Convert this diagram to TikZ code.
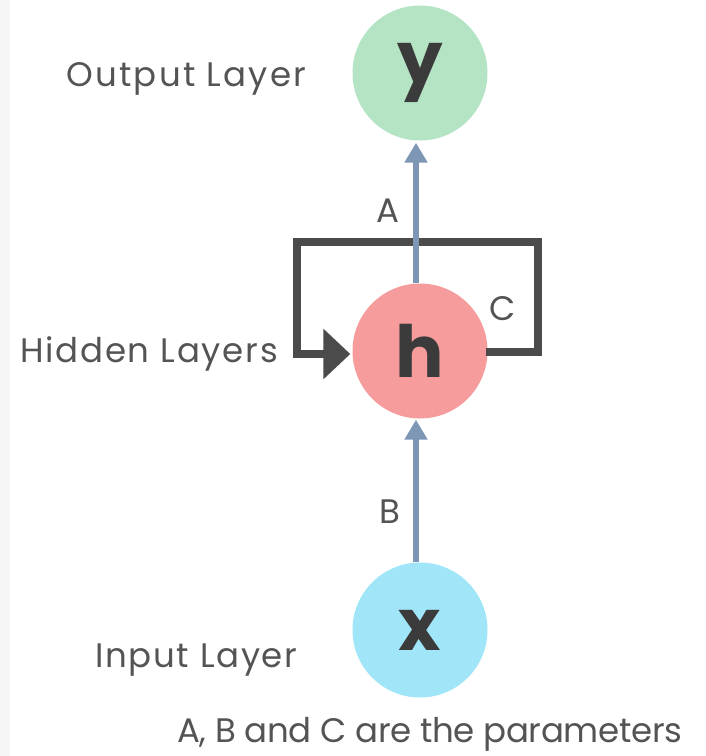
\documentclass[tikz,border=0pt]{standalone}
\usepackage{fontspec}
\setmainfont{Poppins}
\usetikzlibrary{arrows.meta}
\definecolor{ygreen}{HTML}{B5E4C5}
\definecolor{hred}{HTML}{F79C9C}
\definecolor{xcyan}{HTML}{A0E6F8}
\definecolor{arrblue}{HTML}{7F97B6}
\definecolor{loopgray}{HTML}{4B4B4B}
\definecolor{txtgray}{HTML}{545454}
\definecolor{lettergray}{HTML}{3B3B3B}
\definecolor{stripgray}{HTML}{F6F6F6}
\tikzset{
  neuron/.style={circle, minimum size=135pt, inner sep=0pt, draw=none,
    font=\fontsize{72}{72}\selectfont\bfseries, text=lettergray},
  lbl/.style={font=\fontsize{34}{34}\selectfont, text=txtgray, inner sep=0pt},
  bluearrow/.style={draw=arrblue, line width=6.5pt,
    -{Triangle[length=20pt,width=22pt]}},
  looparrow/.style={draw=loopgray, line width=8pt, line join=miter,
    -{Triangle[length=27pt,width=49pt]}}
}
\begin{document}
\begin{tikzpicture}[x=1pt,y=-1pt]
\fill[white] (0,0) rectangle (706,756);
\fill[stripgray] (0,0) rectangle (10,756);
\useasboundingbox (0,0) rectangle (706,756);

\node[neuron, fill=ygreen] (y) at (420,73) {y};
\node[neuron, fill=hred] (h) at (420,351) {h};
\node[neuron, fill=xcyan] (x) at (420,630) {x};

% loop C
\coordinate (c1) at (537.5,352);
\coordinate (c2) at (537.5,242);
\coordinate (c3) at (297,242);
\coordinate (c4) at (297,354);
\draw[looparrow] ([xshift=-2pt,yshift=-1pt]h.east) -- (c1) -- (c2) -- (c3) -- (c4) -- ([xshift=-2pt,yshift=-3pt]h.west);

% arrows A and B
\draw[bluearrow] ([xshift=-4pt]h.north) -- ([xshift=-4pt,yshift=-2pt]y.south);
\draw[bluearrow] ([xshift=-4pt]x.north) -- ([xshift=-4pt,yshift=-1pt]h.south);

% labels
\node[lbl, anchor=base west] (out) at (66,86) {\addfontfeature{LetterSpace=6.6}Output Layer};
\node[lbl, anchor=base west] (hid) at (20,362) {\addfontfeature{LetterSpace=5.2}Hidden Layers};
\node[lbl, anchor=base west] (inp) at (95,667) {\addfontfeature{LetterSpace=5.0}Input Layer};
\node[lbl, anchor=base] (la) at (388,222) {A};
\node[lbl, anchor=base] (lc) at (503,320) {C};
\node[lbl, anchor=base] (lb) at (390,523) {B};
\node[lbl, anchor=base west] (cap) at (177,742) {\addfontfeature{LetterSpace=-1.0}A, B and C are the parameters};
\end{tikzpicture}
\end{document}
